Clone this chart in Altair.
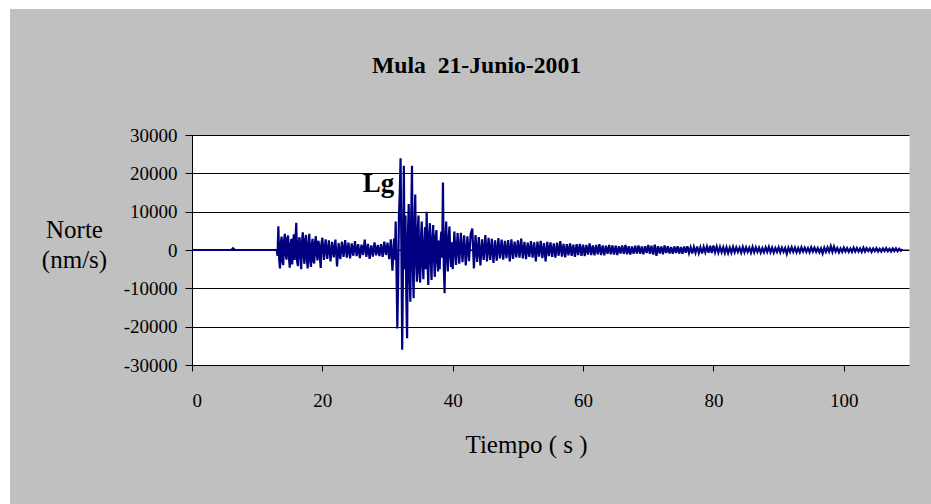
import altair as alt
import pandas as pd

# ---- data (nm/s) ----
# quiet pre-event part: explicit times
pre_t = [0.0, 6.0, 6.3, 6.6, 12.9]
pre_v = [0, 0, 450, 0, 0]

# P wave onset, from 13.0 s, every 0.125 s
p_start, p_dt = 13.0, 0.125
p_wave = [
    0, -1500, 6200, -2500, -4800, 1800, 3500, -3000,
    -3900, 2500, 4200, -1200, -2500, 3000, 3800, -2000,
    -4600, 1500, 2900, -3800, 1200, 4100, -2600, 3000,
    7100, -3000, -4200, 2400, 3300, -1800, -5000, 2200,
    4600, -1500, -3600, 2800, 3900, -2500, -4800, 1600,
    4200, -2800, -4400, 1500, 2900, -3000, -3500, 2000,
    3600, -1200, -2700, 2400, 1500, -2000, -4700, 1800,
]

# early coda, from 20.0 s, every 0.25 s
e_start, e_dt = 20.0, 0.25
e_wave = [
    3200, -2600, 2800, -2300,
    2500, -3000, 2100, -1900,
    2700, -4300, 1800, -2400,
    2200, -1800, 2600, -2000,
    1900, -2200, 1700, -1500,
    2300, -1600, 1500, -2100,
    1400, -1300, 2700, -1800,
    1600, -2300, 1200, -1700,
    2000, -1400, 1300, -1600,
    1500, -1800, 2200, -1300,
    1900, -2400, 2800, -5400,
]

# Lg phase, from 31.0 s, every 0.125 s
lg_start, lg_dt = 31.0, 0.125
lg_wave = [
    3000, -2500, 7400, -5600, -20500, -8000, 9000, 15000,
    23900, 0, -26000, -3000, 22000, -5000, 9000, -12000,
    -23000, 4000, 12000, -6000, -13500, 8000, 22000, -4000,
    -12600, 6000, 14500, -3000, -8300, 5000, 9000, -6000,
    -8500, 3000, 7400, -4000, -7600, 2000, 6000, -5000,
    10000, -3000, -9100, 4000, 7000, -2500, -7800, 3000,
    6500, -2000, -7000, 3500, 5200, -3000, -5600, 2500,
    -5000, 2000, 4800, -2000, 17600, -4000, -11300, 2500,
    7400, -2000, -5600, 3000, 6100, -1500, -4400, 2000,
]

# Lg tail, from 40.0 s, every 0.25 s
lt_start, lt_dt = 40.0, 0.25
lt_wave = [
    -5000, 4800, -3900, 4400,
    -3600, 4500, -3200, 3800,
    -4000, 3600, -2900, 4100,
    5600, -4800, 3900, -3100,
    3400, -4000, 2800, -2600,
]

# late coda, from 45.0 s, every 0.25 s
coda_start, coda_dt = 45.0, 0.25
coda_wave = [
    3900, -3000, 3200, -2600,
    2900, -3400, 2500, -2800,
    3100, -2200, 2700, -2500,
    2400, -2100, 2600, -3000,
    2800, -2300, 2200, -1900,
    2500, -2000, 3000, -2200,
    2100, -2400, 1900, -1800,
    2300, -2000, 2000, -3000,
    2200, -1700, 2400, -2100,
    1800, -3000, 2100, -1600,
    2000, -1800, 1700, -2000,
    1900, -1500, 2300, -1700,
    1600, -1900, 1500, -1400,
    1700, -1500, 1400, -1800,
    1500, -1300, 1600, -1500,
    1400, -1600, 1300, -1200,
    1700, -1300, 1200, -1400,
    1300, -1100, 1500, -1300,
    1200, -1400, 1100, -1000,
    1300, -1100, 1200, -1200,
    1100, -1300, 1000, -900,
    1200, -1000, 1300, -1100,
    1000, -1200, 900, -1000,
    1100, -900, 1200, -1000,
    900, -1100, 1000, -800,
    1300, -1000, 1100, -1200,
    1400, -1500, 1000, -900,
    900, -1100, 1200, -800,
    1000, -900, 800, -1000,
    900, -800, 1000, -900,
    800, -1000, 900, -700,
    1000, -800, 700, -900,
    800, -700, 900, -800,
    700, -900, 800, -600,
    900, -700, 1100, -800,
    1200, -600, 900, -700,
    800, -600, 700, -800,
    700, -800, 600, -700,
    800, -600, 700, -500,
    600, -700, 800, -600,
    700, -500, 600, -700,
    800, -600, 700, -500,
    600, -700, 500, -600,
    700, -500, 800, -600,
    600, -700, 500, -500,
    700, -600, 600, -500,
    500, -1000, 600, -500,
    700, -500, 600, -600,
    500, -600, 700, -400,
    600, -500, 500, -600,
    700, -400, 600, -500,
    500, -600, 400, -900,
    600, -500, 700, -400,
    1000, -500, 900, -400,
    500, -600, 400, -500,
    600, -400, 500, -500,
    400, -500, 600, -400,
    500, -400, 400, -500,
    600, -400, 500, -300,
    400, -500, 400, -300,
    500, -400, 300, -400,
    400, -300, 500, -300,
    300, -400, 400, -300,
    400, -300, 300, -200,
    200,
]

x_ticks = [0, 20, 40, 60, 80, 100]
y_ticks = [-30000, -20000, -10000, 0, 10000, 20000, 30000]
label_text = ["Lg"]
label_t = [26.2]
label_v = [15100]

# ---- build table ----
t_all, v_all = list(pre_t), list(pre_v)
segments = [
    (p_start, p_dt, p_wave), (e_start, e_dt, e_wave), (lg_start, lg_dt, lg_wave),
    (lt_start, lt_dt, lt_wave), (coda_start, coda_dt, coda_wave),
]
for start, step, seg in segments:
    for i, v in enumerate(seg):
        t_all.append(round(start + i * step, 4))
        v_all.append(v)
trace = pd.DataFrame({"t": t_all, "v": v_all})

FONT = "Liberation Serif"
W, H = 717, 230

xscale = alt.Scale(domain=[0, 110], nice=False, zero=False)
yscale = alt.Scale(domain=[-30000, 30000], nice=False)

xaxis = alt.Axis(
    values=x_ticks, title="Tiempo ( s )", grid=False, domain=False,
    ticks=True, tickSize=6, tickColor="black", tickWidth=1,
    labelFont=FONT, labelFontSize=19, labelColor="black", labelPadding=20,
    titleFont=FONT, titleFontSize=25, titleFontWeight="normal", titleColor="black",
    titleX=334, titleY=87, titleBaseline="alphabetic", titleAlign="center",
)
yaxis = alt.Axis(
    values=y_ticks, title=["Norte", "(nm/s)"], grid=True, gridColor="black",
    gridWidth=1, gridOpacity=1, domain=True, domainColor="black", domainWidth=1,
    ticks=True, tickSize=7, tickColor="black", tickWidth=1,
    labelFont=FONT, labelFontSize=19, labelColor="black", labelPadding=8,
    labelExpr="datum.value + ''",
    titleFont=FONT, titleFontSize=25, titleFontWeight="normal", titleColor="black",
    titleAngle=0, titleX=-118, titleY=102, titleBaseline="alphabetic",
    titleAlign="center", titleLineHeight=30,
)

one = pd.DataFrame({"a": [0]})
strip_left = alt.Chart(one).mark_rect(color="white").encode(
    x=alt.value(-192), x2=alt.value(-182), y=alt.value(-135), y2=alt.value(369))
strip_top = alt.Chart(one).mark_rect(color="white").encode(
    x=alt.value(-192), x2=alt.value(739), y=alt.value(-135), y2=alt.value(-126))

zero_rule = alt.Chart(pd.DataFrame({"v": [0]})).mark_rule(
    color="black", strokeWidth=1).encode(y=alt.Y("v:Q", scale=yscale, axis=yaxis))

lg = alt.Chart(pd.DataFrame({"t": label_t, "v": label_v, "s": label_text})).mark_text(
    font=FONT, fontSize=27, fontWeight="bold", color="black",
    align="left", baseline="alphabetic").encode(
    x=alt.X("t:Q", scale=xscale, axis=xaxis), y=alt.Y("v:Q", scale=yscale, axis=yaxis),
    text="s:N")

line = alt.Chart(trace).mark_line(color="#000080", strokeWidth=2.2, clip=True).encode(
    x=alt.X("t:Q", scale=xscale, axis=xaxis),
    y=alt.Y("v:Q", scale=yscale, axis=yaxis),
)

chart = alt.layer(strip_left, strip_top, zero_rule, lg, line).properties(
    width=W, height=H,
    title=alt.TitleParams(
        "Mula\u00a0 21-Junio-2001", font=FONT, fontSize=23.7, fontWeight="bold",
        color="black", anchor="middle", dx=-74, offset=-97, baseline="alphabetic"),
    autosize=alt.AutoSizeParams(type="none"),
    padding={"left": 192, "top": 135, "right": 22, "bottom": 139},
    background="#C0C0C0",
).configure(font=FONT).configure_view(fill="white", stroke="transparent")

chart.save("out.html", embed_options={"renderer": "svg", "actions": False})
